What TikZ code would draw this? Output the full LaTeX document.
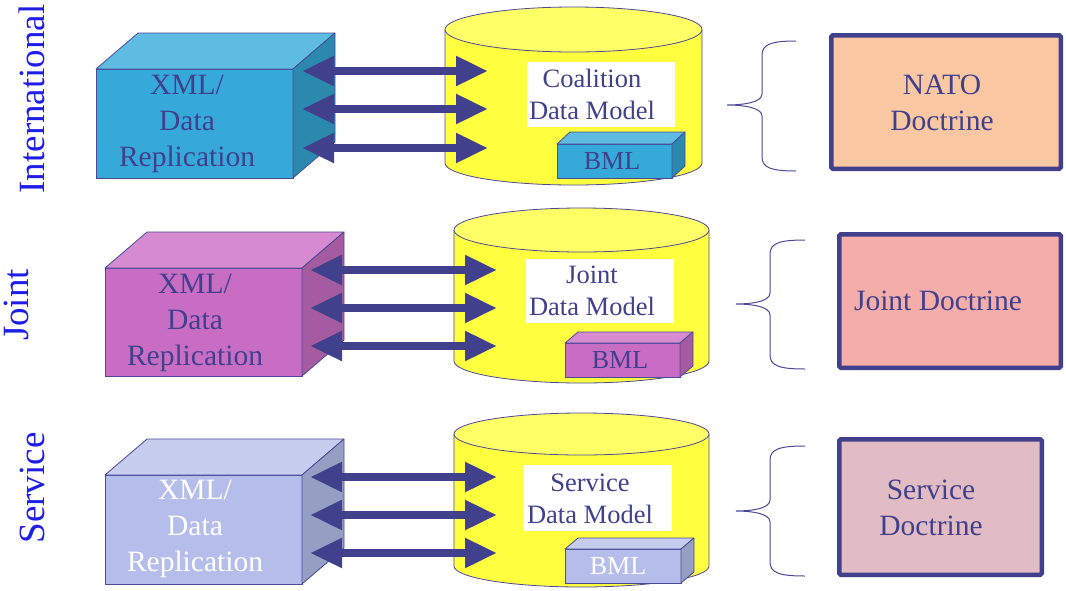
\documentclass[tikz,border=0pt]{standalone}
\usepackage{fontspec}
\setmainfont{Liberation Serif}
\usetikzlibrary{arrows.meta}
\definecolor{ink}{HTML}{40408C}
\definecolor{edgec}{HTML}{4A4A99}
\definecolor{labblue}{HTML}{1E1EE6}
\definecolor{AF}{HTML}{36A9DB}
\definecolor{AT}{HTML}{5EBBE2}
\definecolor{AS}{HTML}{2C89AE}
\definecolor{BF}{HTML}{C96DC4}
\definecolor{BT}{HTML}{D68BD0}
\definecolor{BS}{HTML}{A55BA0}
\definecolor{CF}{HTML}{B5BEEA}
\definecolor{CT}{HTML}{C6CDEF}
\definecolor{CS}{HTML}{959FC4}
\definecolor{cylbody}{HTML}{FFFF40}
\definecolor{cyltop}{HTML}{FFFF66}
\definecolor{DocA}{HTML}{F9C8A3}
\definecolor{DocB}{HTML}{F4ADA8}
\definecolor{DocC}{HTML}{E1BCC4}
\tikzset{
  face/.style={draw=edgec, line width=0.8pt, inner sep=0pt, outer sep=0pt},
  edge/.style={draw=edgec, line width=0.8pt, line join=round},
  dbl/.style={draw=ink, line width=8pt,
    {Triangle[length=32pt,width=28pt]}-{Triangle[length=32pt,width=28pt]}},
  xmltext/.style={font=\fontsize{29.5}{36}\selectfont, align=center, text=ink, inner sep=0pt},
  dmtext/.style={font=\fontsize{26.5}{32}\selectfont, align=center, text=ink, inner sep=0pt},
  bmltext/.style={font=\fontsize{26}{30}\selectfont, text=ink, inner sep=0pt},
  doc/.style={draw=ink, line width=4.5pt, rounded corners=1.5pt, inner sep=0pt},
  doctext/.style={font=\fontsize{29.5}{36}\selectfont, align=center, text=ink, inner sep=0pt},
  vlab/.style={rotate=90, font=\fontsize{37}{40}\selectfont, text=labblue, inner sep=0pt, anchor=base},
  brc/.style={draw=edgec, line width=1pt},
}
% cube: name, x0, y0, x1, y1, dx, dy(up), colour set
\newcommand\drawcube[8]{%
  \pgfmathsetmacro\cubew{#4-#2}%
  \pgfmathsetmacro\cubeh{#5-#3}%
  \node[face, fill=#8F, minimum width=\cubew pt, minimum height=\cubeh pt] (#1) at ({(#2+#4)/2},{(#3+#5)/2}) {};
  \filldraw[edge, fill=#8T] (#1.north west) -- ++(#6,-#7) -- ++(\cubew,0) -- (#1.north east) -- cycle;
  \filldraw[edge, fill=#8S] (#1.north east) -- ++(#6,-#7) -- ++(0,\cubeh) -- (#1.south east) -- cycle;
}
% cylinder: name, x0, x1, ytop centre, ybottom centre, ry top, ry bottom
\newcommand\drawcyl[7]{%
  \pgfmathsetmacro\cylrx{(#3-#2)/2}%
  \fill[cylbody] (#2,#4) -- (#2,#5) arc[start angle=180, end angle=0, x radius=\cylrx, y radius=#7] -- (#3,#4) -- cycle;
  \draw[edge] (#2,#4) -- (#2,#5) arc[start angle=180, end angle=0, x radius=\cylrx, y radius=#7] -- (#3,#4);
  \filldraw[edge, fill=cyltop] ({(#2+#3)/2},#4) ellipse[x radius=\cylrx, y radius=#6];
  \coordinate (#1) at ({(#2+#3)/2},{(#4+#5)/2});
}
% brace: tip x, tip y, mid x, end x, top y, bottom y
\newcommand\drawbrace[6]{%
  \draw[brc] (#4,#5) .. controls ({#3+10},#5) and (#3,{#5+3}) .. (#3,{#5+14})
    -- (#3,{#2-11}) .. controls (#3,{#2-2}) and ({#1+14},#2) .. (#1,#2)
    .. controls ({#1+14},#2) and (#3,{#2+2}) .. (#3,{#2+11})
    -- (#3,{#6-14}) .. controls (#3,{#6-3}) and ({#3+10},#6) .. (#4,#6);
}
\begin{document}
\begin{tikzpicture}[x=1pt,y=-1pt]
\useasboundingbox (0,0) rectangle (1066,590);

% ---------- side labels
\node[vlab] (lint) at (44,99) {International};
\node[vlab] (ljoint) at (28,305) {Joint};
\node[vlab] (lserv) at (44,488) {Service};

% ---------- row 1
\drawcube{xml1}{96}{69}{293}{178}{42}{36}{A}
\node[xmltext] (xml1t) at (187,124) {XML/\\Data\\Replication};
\drawcyl{cyl1}{445}{702}{29.5}{163}{22.5}{22}
\fill[white] (527,62) rectangle (675,127);
\node[dmtext] (dm1) at (592,94) {Coalition\\Data Model};
\drawcube{bml1}{557}{144}{672}{178}{13}{12}{A}
\node[bmltext] (bml1t) at (612,161) {BML};

% ---------- row 2
\drawcube{xml2}{105}{268}{302}{376}{42}{36}{B}
\node[xmltext] (xml2t) at (195,323) {XML/\\Data\\Replication};
\drawcyl{cyl2}{454}{709}{230}{361}{22}{22}
\fill[white] (526,259) rectangle (674,323);
\node[dmtext] (dm2) at (592,291) {Joint\\Data Model};
\drawcube{bml2}{565}{343}{680}{377}{13}{11}{B}
\node[bmltext] (bml2t) at (620,360) {BML};

% ---------- row 3
\drawcube{xml3}{105}{475}{302}{584}{42}{36}{C}
\node[xmltext, text=white] (xml3t) at (195,529) {XML/\\Data\\Replication};
\drawcyl{cyl3}{454}{709}{434}{566}{21}{21}
\fill[white] (523,465) rectangle (672,531);
\node[dmtext] (dm3) at (590,499) {Service\\Data Model};
\drawcube{bml3}{565}{549}{681}{583}{13}{11}{C}
\node[bmltext, text=white] (bml3t) at (618,566) {BML};

% ---------- arrows
\coordinate (a11l) at (302,71);  \coordinate (a11r) at (488,71);
\coordinate (a12l) at (302,109); \coordinate (a12r) at (488,109);
\coordinate (a13l) at (302,148); \coordinate (a13r) at (488,148);
\coordinate (a21l) at (310,270); \coordinate (a21r) at (497,270);
\coordinate (a22l) at (310,308); \coordinate (a22r) at (497,308);
\coordinate (a23l) at (310,346); \coordinate (a23r) at (497,346);
\coordinate (a31l) at (310,477); \coordinate (a31r) at (497,477);
\coordinate (a32l) at (310,515); \coordinate (a32r) at (497,515);
\coordinate (a33l) at (310,553); \coordinate (a33r) at (497,553);
\foreach \r in {1,2,3}{\foreach \i in {1,2,3}{\draw[dbl] (a\r\i l) -- (a\r\i r);}}

% ---------- braces
\drawbrace{727}{105}{762}{796}{41}{171}
\drawbrace{736}{304}{770}{805}{240}{369}
\drawbrace{736}{511}{770}{805}{446}{576}

% ---------- doctrine boxes
\node[doc, fill=DocA, minimum width=229.5pt, minimum height=133.5pt] (nato) at (946,102) {};
\node[doctext] (natot) at (942,102.5) {NATO\\Doctrine};
\node[doc, fill=DocB, minimum width=221.5pt, minimum height=133.5pt] (jdoc) at (950,301) {};
\node[doctext] (jdoct) at (938,301) {Joint Doctrine};
\node[doc, fill=DocC, minimum width=202.5pt, minimum height=135.5pt] (sdoc) at (940.5,507) {};
\node[doctext] (sdoct) at (931,508) {Service\\Doctrine};
\end{tikzpicture}
\end{document}
